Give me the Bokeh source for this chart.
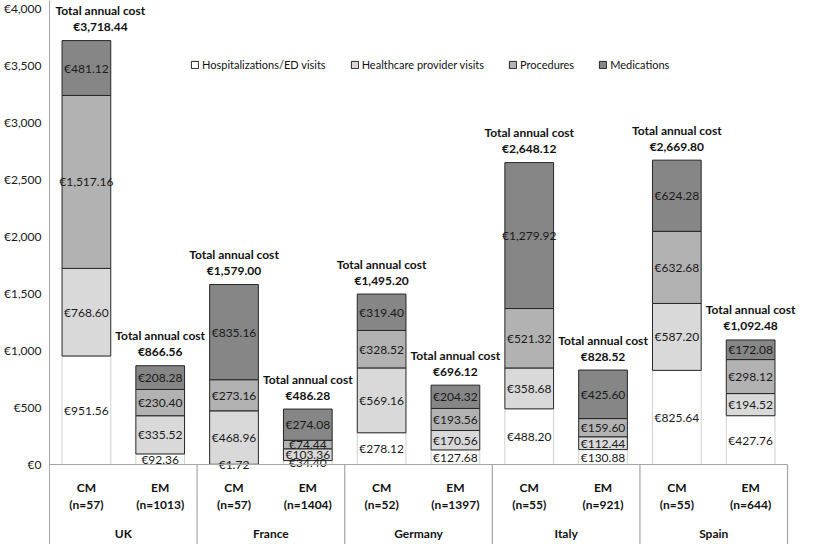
from bokeh.plotting import figure
from bokeh.models import (ColumnDataSource, Range1d, Legend, LegendItem, FixedTicker)
from bokeh.core.properties import value
from bokeh.embed import file_html
from bokeh.resources import INLINE

# ---------------- data ----------------
countries = ["UK", "France", "Germany", "Italy", "Spain"]
groups = ["CM", "EM"]
n_values = [57, 1013, 57, 1404, 52, 1397, 55, 921, 55, 644]

series = ["Hospitalizations/ED visits", "Healthcare provider visits",
          "Procedures", "Medications"]
hospitalizations = [951.56, 92.36, 1.72, 34.40, 278.12, 127.68, 488.20, 130.88, 825.64, 427.76]
provider_visits = [768.60, 335.52, 468.96, 103.36, 569.16, 170.56, 358.68, 112.44, 587.20, 194.52]
procedures = [1517.16, 230.40, 273.16, 74.44, 328.52, 193.56, 521.32, 159.60, 632.68, 298.12]
medications = [481.12, 208.28, 835.16, 274.08, 319.40, 204.32, 1279.92, 425.60, 624.28, 172.08]
totals = [3718.44, 866.56, 1579.00, 486.28, 1495.20, 696.12, 2648.12, 828.52, 2669.80, 1092.48]

y_ticks = [0, 500, 1000, 1500, 2000, 2500, 3000, 3500, 4000]

# ---------------- styling ----------------
FONT = "Lato"
fills = ["#ffffff", "#d9d9d9", "#b2b2b2", "#868686"]
outlines = ["#d0d0d0", "#262626", "#262626", "#262626"]
AXIS_GRAY = "#a6a6a6"
TXT = "#111111"

# category positions on a linear axis: one unit per country/group column
n_cols = len(countries) * len(groups)
col_x = [i + 0.5 for i in range(n_cols)]
col_country = [c for c in countries for g in groups]
col_group = [g for c in countries for g in groups]
country_x = [len(groups) * j + len(groups) / 2 for j in range(len(countries))]
sep_x = [len(groups) * (j + 1) for j in range(len(countries))]

keys = ["hosp", "hcp", "proc", "med"]
values_list = [hospitalizations, provider_visits, procedures, medications]
src = ColumnDataSource(dict(x=col_x, **{k: v for k, v in zip(keys, values_list)}))

x_range = Range1d(0, 10.135)
y_range = Range1d(-701.75, 4070.2)

p = figure(width=798, height=544, x_range=x_range, y_range=y_range,
           output_backend="svg", toolbar_location=None, x_axis_location=None,
           min_border_top=0, min_border_bottom=0, min_border_left=48,
           min_border_right=1, outline_line_color=None)
p.background_fill_color = "white"
p.border_fill_color = "white"
p.xgrid.visible = False
p.ygrid.visible = False

# y axis
p.yaxis.ticker = FixedTicker(ticks=y_ticks)
p.yaxis.major_label_overrides = {t: f"€{t:,}" for t in y_ticks}
p.yaxis.major_tick_line_color = None
p.yaxis.minor_tick_line_color = None
p.yaxis.major_tick_out = 0
p.yaxis.major_tick_in = 0
p.yaxis.axis_line_color = AXIS_GRAY
p.yaxis.major_label_standoff = 8
p.yaxis.major_label_text_font = FONT
p.yaxis.major_label_text_font_size = "12px"
p.yaxis.major_label_text_color = "#1a1a1a"

# stacked bars
p.vbar_stack(keys, x="x", width=0.66, source=src, fill_color=fills,
             line_color=outlines, line_width=1)

# labels inside segments
lx, ly, lt = [], [], []
base = [0.0] * n_cols
for vals in values_list:
    for i, v in enumerate(vals):
        lx.append(col_x[i])
        ly.append(base[i] + v / 2)
        lt.append(f"€{v:,.2f}")
        base[i] += v
p.text(x=lx, y=ly, text=lt, text_font=value(FONT), text_font_size="12px",
       text_align="center", text_baseline="middle", text_color="#1a1a1a")

# total labels: the first column's label is nudged right, clear of the axis
nudge = [14 if i == 0 else 0 for i in range(n_cols)]
tot_src = ColumnDataSource(dict(x=col_x, y=totals, dx=nudge,
                                t1=["Total annual cost"] * n_cols,
                                t2=[f"€{t:,.2f}" for t in totals]))
p.text(x="x", y="y", text="t1", x_offset="dx", y_offset=-30, source=tot_src,
       text_font=value(FONT), text_font_size="12px", text_font_style="bold",
       text_align="center", text_baseline="middle", text_color=TXT)
p.text(x="x", y="y", text="t2", x_offset="dx", y_offset=-14, source=tot_src,
       text_font=value(FONT), text_font_size="12px", text_font_style="bold",
       text_align="center", text_baseline="middle", text_color=TXT)

# x axis line at zero
p.segment(x0=[0], y0=[0], x1=[n_cols], y1=[0], line_color=AXIS_GRAY, line_width=1)

# category labels
p.text(x=col_x, y=[0] * n_cols,
       text=[f"{g}\n(n={n})" for g, n in zip(col_group, n_values)],
       text_font=value(FONT), text_font_size="12px", text_font_style="bold",
       text_align="center", text_baseline="top", y_offset=15,
       text_line_height=1.15, text_color=TXT)
p.text(x=country_x, y=[0] * len(countries), text=countries,
       text_font=value(FONT), text_font_size="12px", text_font_style="bold",
       text_align="center", text_baseline="top", y_offset=61, text_color=TXT)

# separators between countries in the category area
p.segment(x0=sep_x, y0=[0] * len(sep_x), x1=sep_x,
          y1=[y_range.start] * len(sep_x), line_color=AXIS_GRAY, line_width=1.2)

# legend (proxy renderers with dark outlines, drawn outside the visible range)
items = []
for s, c in zip(series, fills):
    r = p.vbar(x=[col_x[0]], top=[y_range.start - 10], bottom=[y_range.start - 20],
               width=0.5, fill_color=c, line_color="#262626")
    items.append(LegendItem(label=s, renderers=[r]))
legend = Legend(items=items, orientation="horizontal", location=(141, 473),
                glyph_width=9, glyph_height=9, label_standoff=3, spacing=24,
                padding=0, margin=0, border_line_color=None,
                background_fill_alpha=0, label_text_font=FONT,
                label_text_font_size="11px", label_text_color=TXT)
p.add_layout(legend)

open("out.html", "w").write(file_html(p, INLINE))
